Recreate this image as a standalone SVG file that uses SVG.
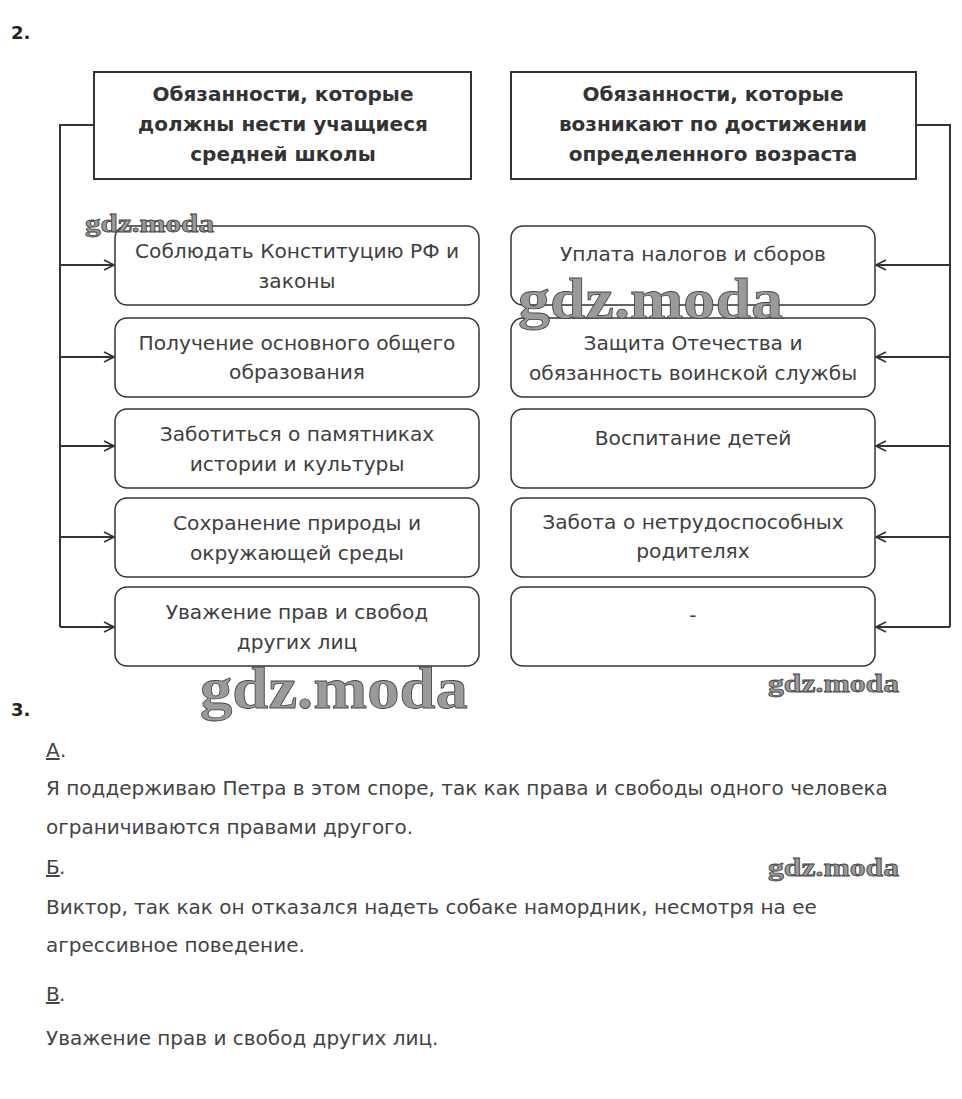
<svg xmlns="http://www.w3.org/2000/svg" width="962" height="1099" viewBox="0 0 962 1099">
<style>
.hdr{fill:#fff;stroke:#333;stroke-width:2}
.box{fill:#fff;stroke:#333;stroke-width:1.5}
.ht{font-family:"DejaVu Sans",Verdana,sans-serif;font-weight:bold;font-size:20px;fill:#333;text-anchor:middle}
.bt{font-family:"DejaVu Sans",Verdana,sans-serif;font-size:20.2px;fill:#404040;text-anchor:middle}
.num{font-family:"DejaVu Sans",Verdana,sans-serif;font-weight:bold;font-size:18px;fill:#222}
.tx{font-family:"DejaVu Sans",Verdana,sans-serif;font-size:20px;fill:#444}
.wm{font-family:"Liberation Serif","DejaVu Serif",serif;font-weight:bold;fill:#9a9a9a;stroke:#444;stroke-width:0.8}
.ln{fill:none;stroke:#333;stroke-width:2}
</style>
<defs>
<marker id="ar" viewBox="0 0 12 12" refX="11" refY="6" markerWidth="12" markerHeight="12" markerUnits="userSpaceOnUse" orient="auto">
<path d="M1,1 L11,6 L1,11" fill="none" stroke="#333" stroke-width="1.6"/>
</marker>
</defs>
<rect width="962" height="1099" fill="#fff"/>
<text class="num" x="11" y="39">2.</text>

<g id="connectors">
<path class="ln" d="M94,125 H60 V627"/>
<path class="ln" d="M60,265 H114" marker-end="url(#ar)"/>
<path class="ln" d="M60,357 H114" marker-end="url(#ar)"/>
<path class="ln" d="M60,446 H114" marker-end="url(#ar)"/>
<path class="ln" d="M60,537 H114" marker-end="url(#ar)"/>
<path class="ln" d="M60,627 H114" marker-end="url(#ar)"/>
<path class="ln" d="M916,125 H950 V627"/>
<path class="ln" d="M950,265 H876" marker-end="url(#ar)"/>
<path class="ln" d="M950,357 H876" marker-end="url(#ar)"/>
<path class="ln" d="M950,446 H876" marker-end="url(#ar)"/>
<path class="ln" d="M950,537 H876" marker-end="url(#ar)"/>
<path class="ln" d="M950,627 H876" marker-end="url(#ar)"/>
</g>

<g id="hdr-left">
<rect class="hdr" x="94" y="72" width="377" height="107"/>
<text class="ht" x="283" y="101">Обязанности, которые</text>
<text class="ht" x="283" y="131">должны нести учащиеся</text>
<text class="ht" x="283" y="161">средней школы</text>
</g>
<g id="hdr-right">
<rect class="hdr" x="511" y="72" width="405" height="107"/>
<text class="ht" x="713" y="101">Обязанности, которые</text>
<text class="ht" x="713" y="131">возникают по достижении</text>
<text class="ht" x="713" y="161">определенного возраста</text>
</g>

<g id="l1"><rect class="box" x="115" y="226" width="364" height="79" rx="12"/>
<text class="bt" x="297" y="258">Соблюдать Конституцию РФ и</text>
<text class="bt" x="297" y="288">законы</text></g>
<g id="l2"><rect class="box" x="115" y="318" width="364" height="79" rx="12"/>
<text class="bt" x="297" y="350">Получение основного общего</text>
<text class="bt" x="297" y="379">образования</text></g>
<g id="l3"><rect class="box" x="115" y="409" width="364" height="79" rx="12"/>
<text class="bt" x="297" y="441">Заботиться о памятниках</text>
<text class="bt" x="297" y="471">истории и культуры</text></g>
<g id="l4"><rect class="box" x="115" y="498" width="364" height="79" rx="12"/>
<text class="bt" x="297" y="530">Сохранение природы и</text>
<text class="bt" x="297" y="560">окружающей среды</text></g>
<g id="l5"><rect class="box" x="115" y="587" width="364" height="79" rx="12"/>
<text class="bt" x="297" y="619">Уважение прав и свобод</text>
<text class="bt" x="297" y="649">других лиц</text></g>

<g id="r1"><rect class="box" x="511" y="226" width="364" height="79" rx="12"/>
<text class="bt" x="693" y="261">Уплата налогов и сборов</text></g>
<g id="r2"><rect class="box" x="511" y="318" width="364" height="79" rx="12"/>
<text class="bt" x="693" y="350">Защита Отечества и</text>
<text class="bt" x="693" y="380">обязанность воинской службы</text></g>
<g id="r3"><rect class="box" x="511" y="409" width="364" height="79" rx="12"/>
<text class="bt" x="693" y="445">Воспитание детей</text></g>
<g id="r4"><rect class="box" x="511" y="498" width="364" height="79" rx="12"/>
<text class="bt" x="693" y="529">Забота о нетрудоспособных</text>
<text class="bt" x="693" y="558">родителях</text></g>
<g id="r5"><rect class="box" x="511" y="587" width="364" height="79" rx="12"/>
<text class="bt" x="693" y="622">-</text></g>

<text class="num" x="11" y="716">3.</text>
<text class="tx" x="46" y="757" text-decoration="underline">А</text><text class="tx" x="60" y="757">.</text>
<text class="tx" x="46" y="795">Я поддерживаю Петра в этом споре, так как права и свободы одного человека</text>
<text class="tx" x="46" y="834">ограничиваются правами другого.</text>
<text class="tx" x="46" y="874" text-decoration="underline">Б</text><text class="tx" x="59" y="874">.</text>
<text class="tx" x="46" y="914">Виктор, так как он отказался надеть собаке намордник, несмотря на ее</text>
<text class="tx" x="46" y="952">агрессивное поведение.</text>
<text class="tx" x="46" y="1001" text-decoration="underline">В</text><text class="tx" x="59" y="1001">.</text>
<text class="tx" x="46" y="1045">Уважение прав и свобод других лиц.</text>

<text class="wm" x="85" y="232" font-size="26" textLength="129" lengthAdjust="spacingAndGlyphs">gdz.moda</text>
<text class="wm" x="518" y="318" font-size="58" textLength="265" lengthAdjust="spacingAndGlyphs">gdz.moda</text>
<text class="wm" x="200" y="708" font-size="60" textLength="268" lengthAdjust="spacingAndGlyphs">gdz.moda</text>
<text class="wm" x="768" y="692" font-size="26" textLength="131" lengthAdjust="spacingAndGlyphs">gdz.moda</text>
<text class="wm" x="768" y="876" font-size="26" textLength="131" lengthAdjust="spacingAndGlyphs">gdz.moda</text>
</svg>
